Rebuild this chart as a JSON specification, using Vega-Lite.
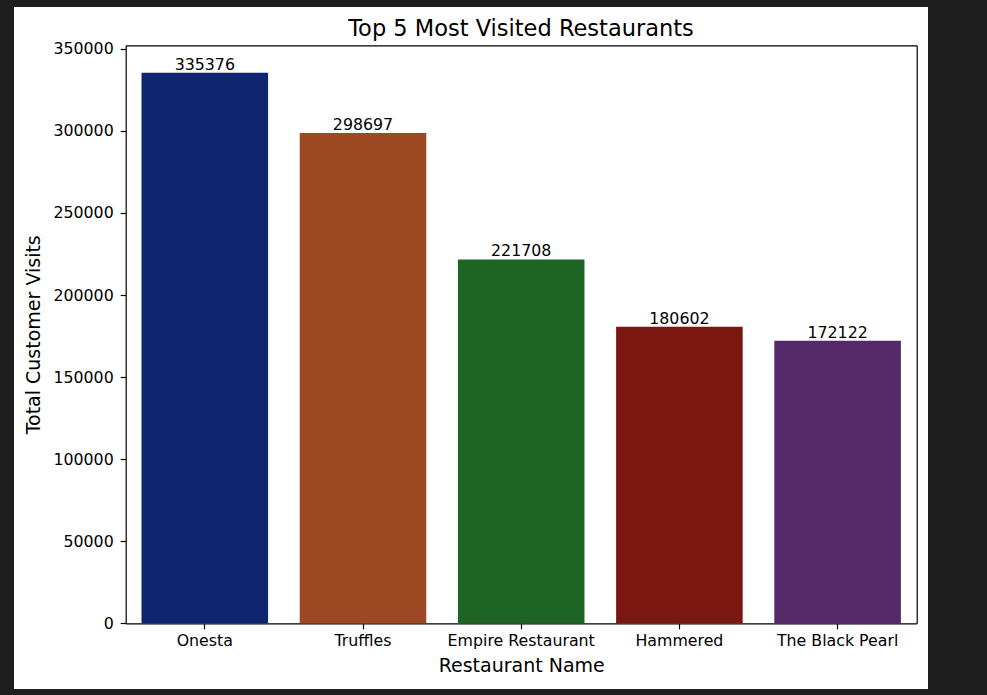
{
  "$schema": "https://vega.github.io/schema/vega-lite/v6.json",
  "width": 914,
  "height": 682,
  "autosize": {"type": "none"},
  "padding": {"left": 14, "top": 7, "right": 59, "bottom": 6},
  "background": "#1f1f1f",
  "config": {
    "view": {"fill": "white", "stroke": null},
    "font": "DejaVu Sans",
    "axis": {"labelFont": "DejaVu Sans", "titleFont": "DejaVu Sans", "labelColor": "black", "titleColor": "black", "domainColor": "black", "tickColor": "black", "grid": false, "titleFontWeight": "normal"}
  },
  "title": {"text": "Top 5 Most Visited Restaurants", "fontSize": 22.5, "fontWeight": "normal", "font": "DejaVu Sans", "color": "black", "anchor": "middle", "frame": "group", "dx": 50, "baseline": "alphabetic", "offset": -51},
  "data": {"values": [
    {"restaurant": "Onesta", "visits": 335376},
    {"restaurant": "Truffles", "visits": 298697},
    {"restaurant": "Empire Restaurant", "visits": 221708},
    {"restaurant": "Hammered", "visits": 180602},
    {"restaurant": "The Black Pearl", "visits": 172122}
  ]},
  "resolve": {"axis": {"x": "independent", "y": "independent"}},
  "layer": [
    {
      "mark": {"type": "bar"},
      "encoding": {
        "x": {"field": "restaurant", "type": "nominal", "sort": null,
          "scale": {"range": [111.7, 902.7], "paddingInner": 0.2, "paddingOuter": 0.1},
          "axis": {"orient": "bottom", "offset": -65.7, "title": "Restaurant Name", "labelAngle": 0, "labelFontSize": 15.8, "titleFontSize": 19, "tickSize": 5.5, "tickWidth": 1.2, "domainWidth": 1.2, "labelPadding": 5, "titlePadding": 8}},
        "y": {"field": "visits", "type": "quantitative",
          "scale": {"domain": [0, 352145], "range": [616.3, 38.3], "nice": false, "zero": true},
          "axis": {"orient": "left", "offset": -111.7, "title": "Total Customer Visits", "values": [0, 50000, 100000, 150000, 200000, 250000, 300000, 350000], "format": "d", "labelFontSize": 15.8, "titleFontSize": 19, "tickSize": 5.5, "tickWidth": 1.2, "domainWidth": 1.2, "labelPadding": 7, "titlePadding": 9}},
        "color": {"field": "restaurant", "type": "nominal", "sort": null,
          "scale": {"domain": ["Onesta", "Truffles", "Empire Restaurant", "Hammered", "The Black Pearl"], "range": ["#10256f", "#9c4822", "#1e6525", "#7a1711", "#552867"]},
          "legend": null}
      }
    },
    {
      "mark": {"type": "text", "baseline": "alphabetic", "dy": -3, "fontSize": 15.8, "font": "DejaVu Sans", "color": "black"},
      "encoding": {
        "x": {"field": "restaurant", "type": "nominal", "sort": null,
          "axis": {"orient": "top", "offset": -38.3, "labels": false, "ticks": false, "title": null, "domainWidth": 1.2}},
        "y": {"field": "visits", "type": "quantitative",
          "axis": {"orient": "right", "offset": -11.3, "labels": false, "ticks": false, "title": null, "domainWidth": 1.2}},
        "text": {"field": "visits", "type": "quantitative", "format": "d"}
      }
    }
  ]
}
